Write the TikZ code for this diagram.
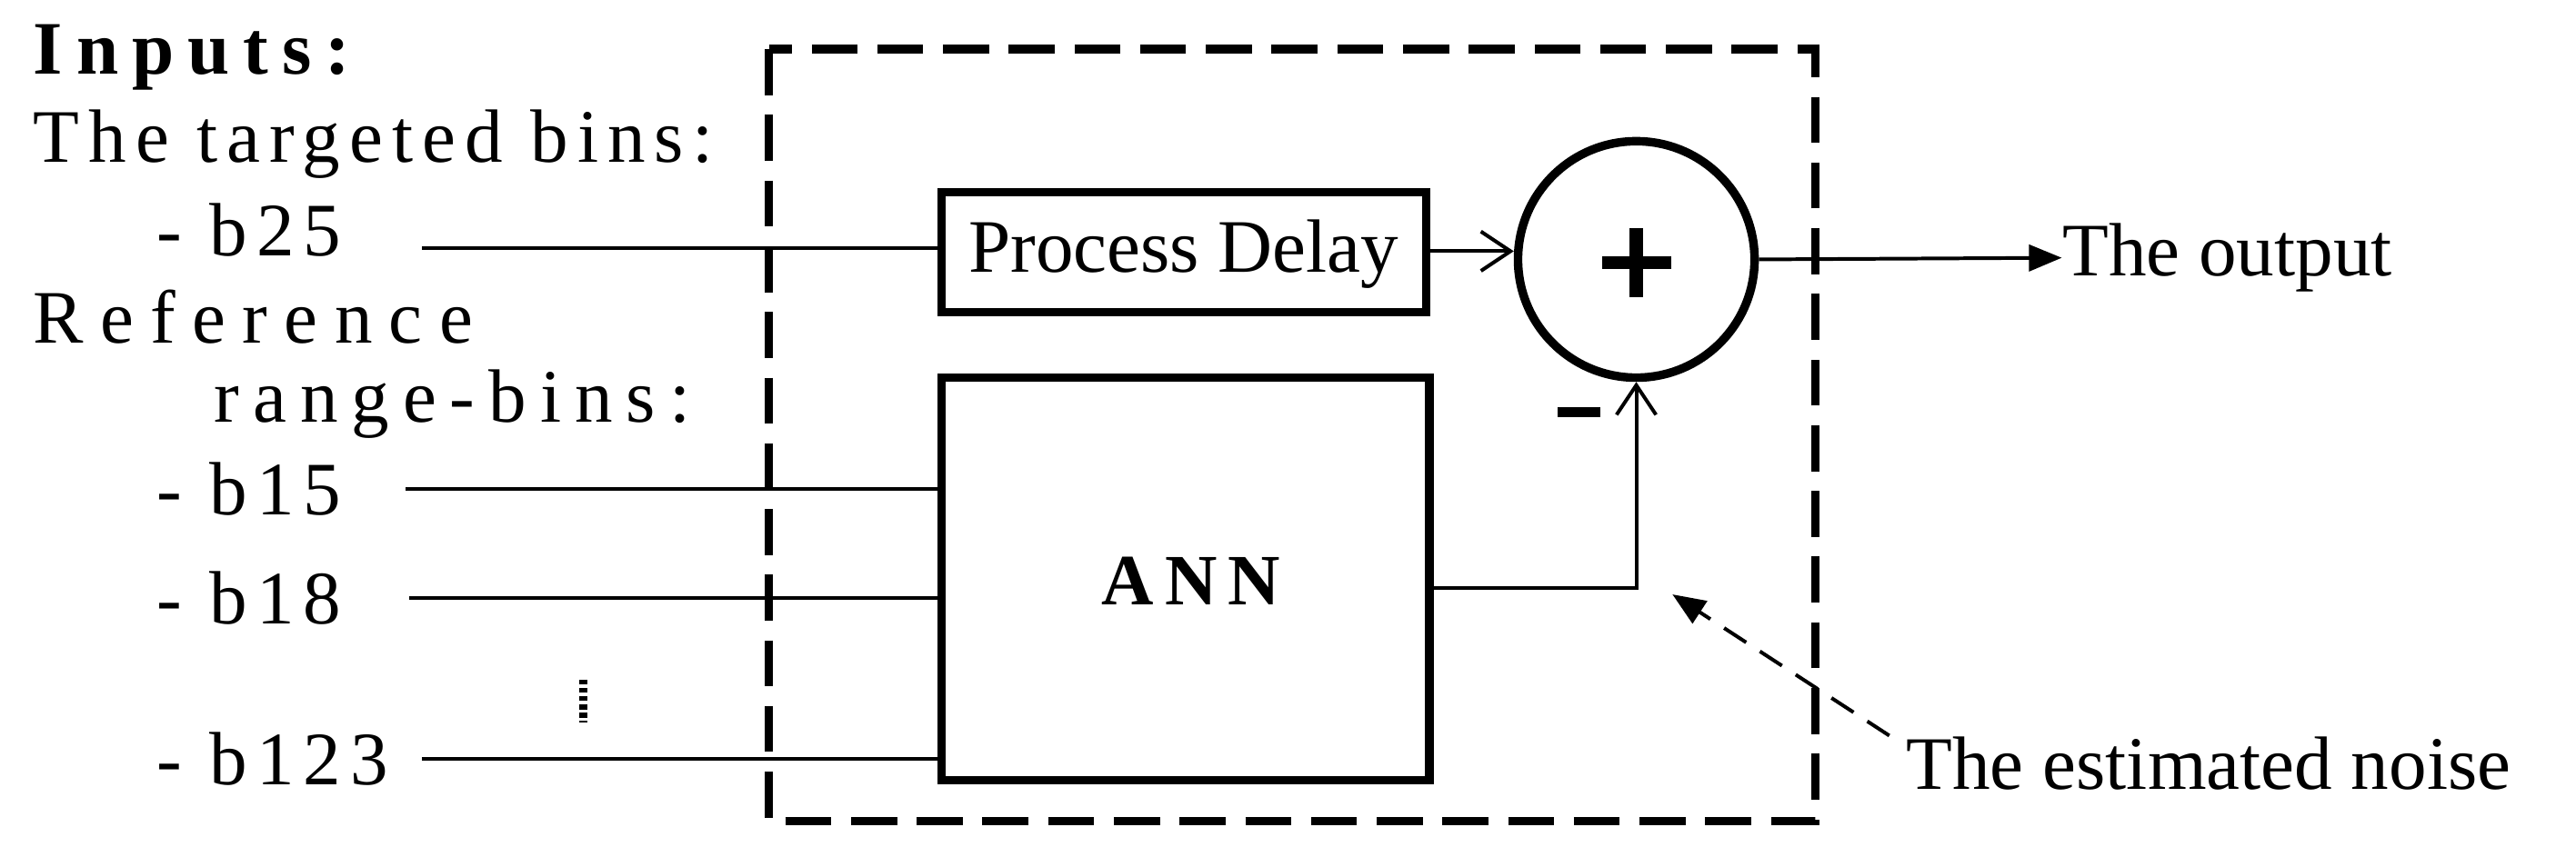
\documentclass[tikz,border=0pt]{standalone}
\usepackage{fontspec}
\setmainfont{Liberation Serif}
\usetikzlibrary{arrows.meta}
\begin{document}
\begin{tikzpicture}[x=0.5pt,y=-0.5pt,
  box/.style={draw,line width=2.6pt,inner sep=0pt},
  conn/.style={line width=1.1pt},
  txt/.style={font=\fontsize{23}{26}\selectfont,inner sep=0pt,anchor=west},
  sp/.style={txt,font=\fontsize{23}{26}\selectfont\addfontfeature{LetterSpace=12}},
  oarrow/.style={-{Straight Barb[length=9pt,width=12pt]}},
  farrow/.style={-{Triangle[length=10pt,width=8pt]}}]
\useasboundingbox (0,0) rectangle (1568,528);
\draw[line width=2.6pt,dash pattern=on 14pt off 6pt] (468,30) rectangle (1105,500);
\node[box,minimum width=147.5pt,minimum height=36.5pt] (pd) at (720.5,153.5) {};
\node[txt,anchor=center] (pdt) at (720.5,155) {Process Delay};
\node[box,minimum width=148.5pt,minimum height=122.5pt] (ann) at (721.5,352.5) {};
\node[font=\fontsize{22}{26}\selectfont\bfseries\addfontfeature{LetterSpace=15}] (annt) at (725,354) {ANN};
\node[draw,circle,line width=2.6pt,minimum size=72pt,inner sep=0pt] (sum) at (996,158) {};
\draw[line width=4pt] (975,160) -- (1017,160) (996,139) -- (996,181);
\draw[line width=3pt] (948,251) -- (974,251);
% left texts
\node[txt,font=\fontsize{23}{26}\selectfont\bfseries\addfontfeature{LetterSpace=18}] (in) at (20,35) {Inputs:};
\node[sp] (tb) at (20,88) {The targeted bins:};
\node[sp] (b25) at (95,140) {- b25};
\node[txt,font=\fontsize{23}{26}\selectfont\addfontfeature{LetterSpace=22}] (ref) at (20,193) {Reference};
\node[txt,font=\fontsize{23}{26}\selectfont\addfontfeature{LetterSpace=18}] (rb) at (130,246) {range-bins:};
\node[sp] (b15) at (95,298) {- b15};
\node[sp] (b18) at (95,364) {- b18};
\node[sp] (b123) at (95,462) {- b123};
\coordinate (s25) at (257,151);
\coordinate (s15) at (247,298);
\coordinate (s18) at (249,364);
\coordinate (s123) at (257,462);
\draw[conn] (s25) -- (pd.west |- s25);
\draw[conn] (s15) -- (ann.west |- s15);
\draw[conn] (s18) -- (ann.west |- s18);
\draw[conn] (s123) -- (ann.west |- s123);
\draw[conn,oarrow] (pd.east |- 0,153) -- (sum.west |- 0,153);
\draw[conn,oarrow] (ann.east |- 0,358) -| (sum.south);
\node[txt] (out) at (1255,157) {The output};
\draw[conn,farrow] (sum.east) -- (out.west);
\draw[line width=2.5pt,dash pattern=on 1.5pt off 1pt] (355,414) -- (355,440);
\node[txt] (noise) at (1160,465) {The estimated noise};
\coordinate (ne) at (1018,362);
\draw[conn,dash pattern=on 8pt off 5pt,farrow] (1150,448) -- (ne);
\end{tikzpicture}
\end{document}
